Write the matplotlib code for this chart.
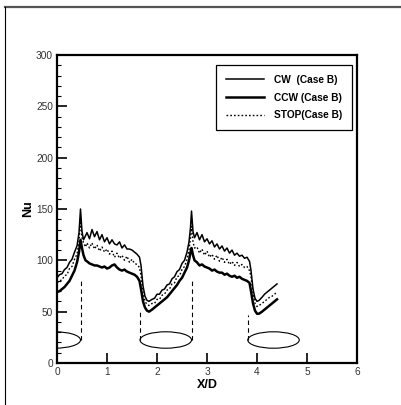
import numpy as np
import matplotlib.pyplot as plt
from matplotlib.patches import Ellipse
from matplotlib.lines import Line2D
from matplotlib.ticker import MultipleLocator

plt.rcParams.update({
    "font.family": "Liberation Sans",
    "font.size": 7,
})

# X/D stations along the channel
x = [0.00, 0.05, 0.10, 0.15, 0.20, 0.25, 0.30, 0.35, 0.40, 0.44,
     0.47, 0.50, 0.53, 0.57, 0.60, 0.65, 0.70, 0.75, 0.80, 0.85,
     0.90, 0.95, 1.00, 1.05, 1.10, 1.15, 1.20, 1.25, 1.30, 1.35,
     1.40, 1.45, 1.50, 1.55, 1.60, 1.65, 1.68, 1.72, 1.76, 1.80,
     1.84, 1.90, 1.95, 2.00, 2.05, 2.10, 2.15, 2.20, 2.25, 2.30,
     2.35, 2.40, 2.45, 2.50, 2.55, 2.60, 2.64, 2.67, 2.69, 2.72,
     2.75, 2.80, 2.85, 2.90, 2.95, 3.00, 3.05, 3.10, 3.15, 3.20,
     3.25, 3.30, 3.35, 3.40, 3.45, 3.50, 3.55, 3.60, 3.65, 3.70,
     3.75, 3.80, 3.85, 3.88, 3.92, 3.96, 4.00, 4.04, 4.10, 4.15,
     4.20, 4.25, 4.30, 4.35, 4.40]

nu_cw = [83, 86, 87, 91, 93, 98, 101, 108, 114, 127,
         150, 128, 120, 124, 127, 121, 130, 123, 128, 120,
         125, 118, 122, 116, 120, 116, 115, 118, 112, 115,
         111, 111, 110, 108, 106, 103, 95, 75, 65, 61,
         60, 62, 63, 67, 67, 71, 72, 76, 77, 82,
         84, 89, 91, 97, 100, 108, 118, 132, 148, 128,
         122, 127, 120, 125, 118, 121, 116, 119, 113, 116,
         111, 114, 109, 112, 107, 110, 105, 107, 104, 105,
         102, 103, 99, 90, 72, 63, 60, 61, 64, 67,
         69, 71, 73, 75, 77]

nu_stop = [78, 80, 81, 85, 86, 92, 94, 101, 106, 118,
           140, 122, 117, 113, 117, 112, 117, 111, 115, 109,
           113, 108, 111, 106, 109, 103, 107, 102, 105, 100,
           104, 98, 101, 97, 96, 93, 85, 68, 60, 57,
           56, 58, 58, 62, 62, 66, 67, 71, 72, 77,
           78, 84, 85, 91, 94, 101, 110, 122, 133, 118,
           112, 113, 107, 111, 105, 109, 103, 106, 101, 105,
           99, 103, 98, 101, 96, 99, 95, 98, 94, 96,
           93, 94, 90, 84, 68, 58, 55, 56, 58, 60,
           62, 64, 65, 67, 69]

nu_ccw = [69, 70, 72, 74, 77, 80, 85, 90, 98, 108,
          120, 112, 105, 100, 99, 97, 96, 95, 95, 94,
          93, 94, 92, 93, 95, 96, 93, 91, 90, 91,
          89, 88, 87, 86, 84, 80, 72, 60, 54, 51,
          50, 52, 54, 56, 58, 60, 62, 64, 67, 70,
          73, 76, 80, 83, 88, 93, 100, 108, 112, 105,
          100, 98, 95, 96, 94, 93, 92, 90, 91, 89,
          88, 88, 86, 87, 85, 84, 85, 83, 84, 82,
          81, 80, 78, 70, 58, 51, 48, 48, 50, 52,
          54, 56, 58, 60, 62]

# cylinder outlines (centre x, width) and the dashed guide lines (x, y0, y1)
cyl_x = [-0.045, 2.175, 4.33]
cyl_w = 1.03
cyl_y = 22.4
cyl_h = 16
guide_x = [0.47, 1.66, 2.69, 3.81]
guide_top = [82, 50, 82, 47]

fig = plt.figure(figsize=(4.02, 4.05), dpi=100)
ax = fig.add_axes([0.1418, 0.1037, 0.7463, 0.7605])

ax.plot(x, nu_cw, color="black", lw=1.1, label="CW  (Case B)")
ax.plot(x, nu_ccw, color="black", lw=1.8, label="CCW (Case B)")
ax.plot(x, nu_stop, color="black", lw=1.0, ls=(0, (1.2, 1.5)), label="STOP(Case B)")

for cx in cyl_x:
    ax.add_patch(Ellipse((cx, cyl_y), cyl_w, cyl_h, fill=False, ec="black", lw=0.8))
for gx, gt in zip(guide_x, guide_top):
    ax.plot([gx, gx], [cyl_y, gt], color="black", lw=0.8, ls=(0, (4, 3)))

ax.set_xlim(0, 6)
ax.set_ylim(0, 300)
ax.set_xticks(range(0, 7))
ax.yaxis.set_major_locator(MultipleLocator(50))
ax.yaxis.set_minor_locator(MultipleLocator(10))
ax.tick_params(axis="both", which="major", direction="in", length=7, width=1.2,
               labelsize=7.3, labelcolor="#333333", pad=3)
ax.tick_params(axis="y", which="minor", direction="in", length=3, width=0.8)
for s in ax.spines.values():
    s.set_linewidth(1.6)

ax.set_xlabel("X/D", fontsize=9, fontweight="bold", labelpad=1)
ax.set_ylabel("Nu", fontsize=9, fontweight="bold", labelpad=1)

leg = ax.legend(loc="upper right", bbox_to_anchor=(0.983, 0.968), borderaxespad=0,
                fancybox=False, framealpha=1, edgecolor="black", handlelength=3.8,
                prop={"weight": "bold", "size": 7.3}, borderpad=1.0,
                labelspacing=0.75, handletextpad=0.9)
leg.get_frame().set_linewidth(0.9)

# page frame lines
fig.add_artist(Line2D([5 / 402, 1], [1 - 7 / 405, 1 - 7 / 405], color="#555555", lw=1.6))
fig.add_artist(Line2D([5 / 402, 5 / 402], [0, 1 - 7 / 405], color="black", lw=0.8))

fig.savefig("out.png", dpi=100)
